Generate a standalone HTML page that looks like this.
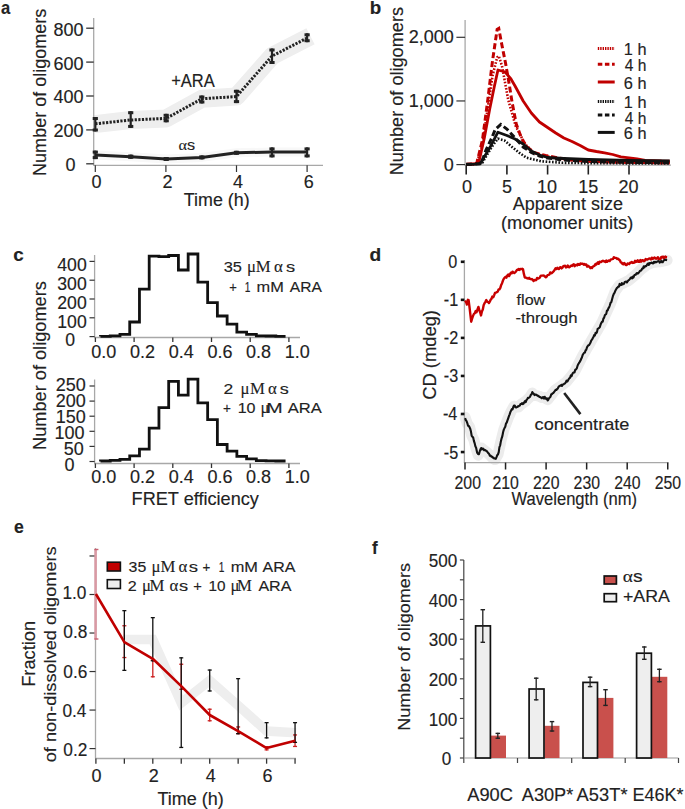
<!DOCTYPE html>
<html><head><meta charset="utf-8"><title>Figure</title>
<style>html,body{margin:0;padding:0;background:#fff;}svg{display:block;}</style></head>
<body><svg width="685" height="809" viewBox="0 0 685 809" font-family="&quot;Liberation Sans&quot;, sans-serif">
<rect width="685" height="809" fill="#fff"/>
<text transform="translate(1.10,13.60) scale(0.9200,1)" font-size="18" font-weight="bold" fill="#222" stroke="#222" stroke-width="0.15">a</text>
<text transform="translate(369.76,14.20) scale(1.0444,1)" font-size="18" font-weight="bold" fill="#222" stroke="#222" stroke-width="0.15">b</text>
<text transform="translate(13.35,260.60) scale(1.0500,1)" font-size="18" font-weight="bold" fill="#222" stroke="#222" stroke-width="0.15">c</text>
<text transform="translate(369.43,260.80) scale(1.0667,1)" font-size="18" font-weight="bold" fill="#222" stroke="#222" stroke-width="0.15">d</text>
<text transform="translate(13.92,532.70) scale(0.9778,1)" font-size="18" font-weight="bold" fill="#222" stroke="#222" stroke-width="0.15">e</text>
<text transform="translate(371.90,554.30) scale(0.9500,1)" font-size="18" font-weight="bold" fill="#222" stroke="#222" stroke-width="0.15">f</text>
<polyline points="94.50,124.10 130.70,120.00 166.20,118.40 201.80,98.80 236.50,96.50 272.00,56.10 310.50,36.30" fill="none" stroke="#eeeeee" stroke-width="18" stroke-linejoin="round"/>
<polyline points="94.50,155.00 130.70,156.80 166.20,159.00 201.80,157.40 236.50,152.80 272.00,152.00 310.00,152.00" fill="none" stroke="#f8f8f8" stroke-width="9" stroke-linejoin="round"/>
<line x1="93.70" y1="18.00" x2="93.70" y2="165.30" stroke="#a8a8a8" stroke-width="1.3" />
<line x1="93.20" y1="165.30" x2="323.00" y2="165.30" stroke="#a8a8a8" stroke-width="1.3" />
<line x1="86.20" y1="163.80" x2="93.70" y2="163.80" stroke="#333" stroke-width="1.3" />
<text transform="translate(65.40,171.25) scale(1.0000,1)" font-size="18" fill="#222" stroke="#222" stroke-width="0.15">0</text>
<line x1="86.20" y1="129.90" x2="93.70" y2="129.90" stroke="#333" stroke-width="1.3" />
<text transform="translate(53.50,137.35) scale(1.0000,1)" font-size="18" fill="#222" stroke="#222" stroke-width="0.15">200</text>
<line x1="86.20" y1="96.00" x2="93.70" y2="96.00" stroke="#333" stroke-width="1.3" />
<text transform="translate(53.50,103.45) scale(1.0000,1)" font-size="18" fill="#222" stroke="#222" stroke-width="0.15">400</text>
<line x1="86.20" y1="62.10" x2="93.70" y2="62.10" stroke="#333" stroke-width="1.3" />
<text transform="translate(53.50,69.55) scale(1.0000,1)" font-size="18" fill="#222" stroke="#222" stroke-width="0.15">600</text>
<line x1="86.20" y1="28.20" x2="93.70" y2="28.20" stroke="#333" stroke-width="1.3" />
<text transform="translate(53.50,35.65) scale(1.0000,1)" font-size="18" fill="#222" stroke="#222" stroke-width="0.15">800</text>
<line x1="95.30" y1="165.30" x2="95.30" y2="172.00" stroke="#333" stroke-width="1.2" />
<text transform="translate(91.40,188.40) scale(1.0000,1)" font-size="18" fill="#222" stroke="#222" stroke-width="0.15">0</text>
<line x1="165.90" y1="165.30" x2="165.90" y2="172.00" stroke="#333" stroke-width="1.2" />
<text transform="translate(162.50,188.40) scale(1.0000,1)" font-size="18" fill="#222" stroke="#222" stroke-width="0.15">2</text>
<line x1="236.50" y1="165.30" x2="236.50" y2="172.00" stroke="#333" stroke-width="1.2" />
<text transform="translate(233.10,188.40) scale(1.0000,1)" font-size="18" fill="#222" stroke="#222" stroke-width="0.15">4</text>
<line x1="307.10" y1="165.30" x2="307.10" y2="172.00" stroke="#333" stroke-width="1.2" />
<text transform="translate(303.70,188.40) scale(1.0000,1)" font-size="18" fill="#222" stroke="#222" stroke-width="0.15">6</text>
<polyline points="95.30,123.80 130.70,120.00 166.20,118.40 201.80,98.80 236.50,96.50 272.00,56.10 307.10,38.00" fill="none" stroke="#222" stroke-width="3" stroke-dasharray="2.2,1.4"/>
<line x1="95.30" y1="117.00" x2="95.30" y2="131.50" stroke="#222" stroke-width="2.2" />
<line x1="92.70" y1="118.50" x2="97.90" y2="118.50" stroke="#222" stroke-width="3" />
<line x1="92.70" y1="130.00" x2="97.90" y2="130.00" stroke="#222" stroke-width="3" />
<line x1="130.70" y1="111.20" x2="130.70" y2="127.90" stroke="#222" stroke-width="2.2" />
<line x1="128.10" y1="112.70" x2="133.30" y2="112.70" stroke="#222" stroke-width="3" />
<line x1="128.10" y1="126.40" x2="133.30" y2="126.40" stroke="#222" stroke-width="3" />
<line x1="166.20" y1="113.80" x2="166.20" y2="122.30" stroke="#222" stroke-width="2.2" />
<line x1="163.60" y1="115.30" x2="168.80" y2="115.30" stroke="#222" stroke-width="3" />
<line x1="163.60" y1="120.80" x2="168.80" y2="120.80" stroke="#222" stroke-width="3" />
<line x1="201.80" y1="95.50" x2="201.80" y2="103.50" stroke="#222" stroke-width="2.2" />
<line x1="199.20" y1="97.00" x2="204.40" y2="97.00" stroke="#222" stroke-width="3" />
<line x1="199.20" y1="102.00" x2="204.40" y2="102.00" stroke="#222" stroke-width="3" />
<line x1="236.50" y1="89.80" x2="236.50" y2="103.10" stroke="#222" stroke-width="2.2" />
<line x1="233.90" y1="91.30" x2="239.10" y2="91.30" stroke="#222" stroke-width="3" />
<line x1="233.90" y1="101.60" x2="239.10" y2="101.60" stroke="#222" stroke-width="3" />
<line x1="272.00" y1="48.50" x2="272.00" y2="64.00" stroke="#222" stroke-width="2.2" />
<line x1="269.40" y1="50.00" x2="274.60" y2="50.00" stroke="#222" stroke-width="3" />
<line x1="269.40" y1="62.50" x2="274.60" y2="62.50" stroke="#222" stroke-width="3" />
<line x1="307.10" y1="33.30" x2="307.10" y2="42.20" stroke="#222" stroke-width="2.2" />
<line x1="304.50" y1="34.80" x2="309.70" y2="34.80" stroke="#222" stroke-width="3" />
<line x1="304.50" y1="40.70" x2="309.70" y2="40.70" stroke="#222" stroke-width="3" />
<polyline points="95.30,155.00 130.70,156.80 166.20,159.00 201.80,157.40 236.50,152.80 272.00,152.00 307.10,152.00" fill="none" stroke="#222" stroke-width="3" stroke-linejoin="round"/>
<line x1="95.30" y1="150.60" x2="95.30" y2="159.10" stroke="#222" stroke-width="2.2" />
<line x1="92.70" y1="152.10" x2="97.90" y2="152.10" stroke="#222" stroke-width="3" />
<line x1="92.70" y1="157.60" x2="97.90" y2="157.60" stroke="#222" stroke-width="3" />
<line x1="130.70" y1="154.60" x2="130.70" y2="158.80" stroke="#222" stroke-width="2.2" />
<line x1="128.10" y1="156.10" x2="133.30" y2="156.10" stroke="#222" stroke-width="3" />
<line x1="128.10" y1="157.30" x2="133.30" y2="157.30" stroke="#222" stroke-width="3" />
<line x1="166.20" y1="157.00" x2="166.20" y2="161.00" stroke="#222" stroke-width="2.2" />
<line x1="163.60" y1="158.50" x2="168.80" y2="158.50" stroke="#222" stroke-width="3" />
<line x1="163.60" y1="159.50" x2="168.80" y2="159.50" stroke="#222" stroke-width="3" />
<line x1="201.80" y1="155.40" x2="201.80" y2="159.40" stroke="#222" stroke-width="2.2" />
<line x1="199.20" y1="156.90" x2="204.40" y2="156.90" stroke="#222" stroke-width="3" />
<line x1="199.20" y1="157.90" x2="204.40" y2="157.90" stroke="#222" stroke-width="3" />
<line x1="236.50" y1="150.80" x2="236.50" y2="154.80" stroke="#222" stroke-width="2.2" />
<line x1="233.90" y1="152.30" x2="239.10" y2="152.30" stroke="#222" stroke-width="3" />
<line x1="233.90" y1="153.30" x2="239.10" y2="153.30" stroke="#222" stroke-width="3" />
<line x1="272.00" y1="147.40" x2="272.00" y2="157.40" stroke="#222" stroke-width="2.2" />
<line x1="269.40" y1="148.90" x2="274.60" y2="148.90" stroke="#222" stroke-width="3" />
<line x1="269.40" y1="155.90" x2="274.60" y2="155.90" stroke="#222" stroke-width="3" />
<line x1="307.10" y1="147.40" x2="307.10" y2="157.40" stroke="#222" stroke-width="2.2" />
<line x1="304.50" y1="148.90" x2="309.70" y2="148.90" stroke="#222" stroke-width="3" />
<line x1="304.50" y1="155.90" x2="309.70" y2="155.90" stroke="#222" stroke-width="3" />
<text transform="translate(171.16,87.30) scale(0.9444,1)" font-size="17.5" fill="#222" stroke="#222" stroke-width="0.15">+ARA</text>
<text transform="translate(178.40,150.40) scale(1.0800,1)" font-size="15" fill="#222" stroke="#222" stroke-width="0.15"><tspan font-family="Liberation Serif" stroke-width="0.1">α</tspan>s</text>
<text transform="translate(183.80,206.30) scale(0.9923,1)" font-size="18" fill="#222" stroke="#222" stroke-width="0.15">Time (h)</text>
<text transform="translate(45.60,175.90) rotate(-90) scale(1.0018,1.0300)" font-size="18" fill="#222" stroke="#222" stroke-width="0.15">Number of oligomers</text>
<line x1="465.10" y1="20.00" x2="465.10" y2="165.20" stroke="#a8a8a8" stroke-width="1.3" />
<line x1="464.60" y1="165.20" x2="671.00" y2="165.20" stroke="#a8a8a8" stroke-width="1.3" />
<line x1="456.40" y1="164.60" x2="465.10" y2="164.60" stroke="#333" stroke-width="1.2" />
<text transform="translate(443.70,170.55) scale(1.0000,1)" font-size="18" fill="#222" stroke="#222" stroke-width="0.15">0</text>
<line x1="456.40" y1="100.95" x2="465.10" y2="100.95" stroke="#333" stroke-width="1.2" />
<text transform="translate(408.70,106.90) scale(1.0000,1)" font-size="18" fill="#222" stroke="#222" stroke-width="0.15">1,000</text>
<line x1="456.40" y1="37.30" x2="465.10" y2="37.30" stroke="#333" stroke-width="1.2" />
<text transform="translate(408.70,43.25) scale(1.0000,1)" font-size="18" fill="#222" stroke="#222" stroke-width="0.15">2,000</text>
<line x1="466.20" y1="165.20" x2="466.20" y2="174.50" stroke="#222" stroke-width="1.6" />
<text transform="translate(462.10,193.30) scale(1.0000,1)" font-size="18" fill="#222" stroke="#222" stroke-width="0.15">0</text>
<line x1="506.90" y1="165.20" x2="506.90" y2="174.50" stroke="#222" stroke-width="1.6" />
<text transform="translate(501.90,193.30) scale(1.0000,1)" font-size="18" fill="#222" stroke="#222" stroke-width="0.15">5</text>
<line x1="547.60" y1="165.20" x2="547.60" y2="174.50" stroke="#222" stroke-width="1.6" />
<text transform="translate(537.10,193.30) scale(1.0000,1)" font-size="18" fill="#222" stroke="#222" stroke-width="0.15">10</text>
<line x1="588.30" y1="165.20" x2="588.30" y2="174.50" stroke="#222" stroke-width="1.6" />
<text transform="translate(578.30,193.30) scale(1.0000,1)" font-size="18" fill="#222" stroke="#222" stroke-width="0.15">15</text>
<line x1="629.00" y1="165.20" x2="629.00" y2="174.50" stroke="#222" stroke-width="1.6" />
<text transform="translate(618.50,193.30) scale(1.0000,1)" font-size="18" fill="#222" stroke="#222" stroke-width="0.15">20</text>
<polyline points="466.20,164.30 474.34,164.00 478.65,163.00 484.19,138.70 489.72,109.00 494.28,86.80 497.95,70.00 505.27,72.00 510.97,79.00 515.04,86.00 523.18,101.00 531.32,113.00 539.46,122.00 547.60,127.50 555.74,133.00 563.88,138.00 572.02,141.50 580.16,145.50 588.30,150.00 596.44,151.50 604.58,152.80 612.72,154.50 620.86,156.90 629.00,157.80 637.14,159.00 645.28,160.30 653.42,160.70 661.56,161.00 669.70,161.10" fill="none" stroke="#c00000" stroke-width="2.8" stroke-linejoin="round"/>
<polyline points="466.20,164.30 474.34,164.00 476.78,163.00 482.48,145.00 487.77,108.00 492.49,76.00 497.13,57.50 498.76,56.00 502.02,66.00 508.20,99.80 515.69,126.00 524.97,144.00 534.17,153.00 545.48,156.00 557.21,158.20 572.02,160.30 589.93,161.60 629.00,162.50 669.70,163.00" fill="none" stroke="#c00000" stroke-width="2.6" stroke-dasharray="1.6,1.6"/>
<polyline points="466.20,164.30 474.34,164.00 476.78,163.00 482.48,140.00 487.77,100.00 492.49,61.00 497.13,29.50 498.76,28.50 501.69,44.00 505.52,63.00 509.18,84.00 512.03,102.00 516.26,124.00 521.39,138.00 526.52,146.50 533.76,152.50 545.48,155.50 557.21,157.70 571.78,159.90 589.93,161.30 629.00,162.30 669.70,162.80" fill="none" stroke="#c00000" stroke-width="3" stroke-dasharray="6,3"/>
<polyline points="466.20,164.30 474.34,164.20 482.48,162.50 487.77,153.60 493.06,145.00 497.95,138.70 504.46,140.50 511.78,146.70 519.11,152.60 526.44,157.70 541.09,161.30 563.07,162.80 588.30,163.20 669.70,163.50" fill="none" stroke="#111" stroke-width="2.6" stroke-dasharray="1.6,1.6"/>
<polyline points="466.20,164.30 474.34,164.20 481.26,163.60 485.98,150.00 491.43,138.70 495.26,129.50 500.79,124.50 506.90,129.00 515.04,138.00 523.18,147.00 531.32,152.50 539.46,156.00 547.60,158.00 563.88,160.00 588.30,161.50 629.00,162.30 669.70,162.80" fill="none" stroke="#111" stroke-width="3" stroke-dasharray="6,3"/>
<polyline points="466.20,164.30 474.34,164.20 480.04,163.80 484.11,157.30 490.62,146.20 497.95,132.20 506.90,135.50 515.04,139.00 523.18,144.00 531.32,151.00 539.46,155.00 547.60,157.50 563.88,158.50 588.30,159.50 629.00,160.50 669.70,161.00" fill="none" stroke="#111" stroke-width="2.8" stroke-linejoin="round"/>
<line x1="597.80" y1="48.60" x2="614.70" y2="48.60" stroke="#c00000" stroke-width="3" stroke-dasharray="1.4,1.0"/>
<text transform="translate(623.78,54.50) scale(1.0200,1)" font-size="16" fill="#222" stroke="#222" stroke-width="0.15">1 h</text>
<line x1="597.80" y1="64.20" x2="614.70" y2="64.20" stroke="#c00000" stroke-width="3" stroke-dasharray="4.5,2.6"/>
<text transform="translate(624.80,71.40) scale(0.9714,1)" font-size="16" fill="#222" stroke="#222" stroke-width="0.15">4 h</text>
<line x1="597.80" y1="82.00" x2="614.70" y2="82.00" stroke="#c00000" stroke-width="3" />
<text transform="translate(623.78,88.90) scale(1.0200,1)" font-size="16" fill="#222" stroke="#222" stroke-width="0.15">6 h</text>
<line x1="597.80" y1="101.50" x2="614.70" y2="101.50" stroke="#111" stroke-width="3" stroke-dasharray="1.4,1.0"/>
<text transform="translate(623.78,108.40) scale(1.0200,1)" font-size="16" fill="#222" stroke="#222" stroke-width="0.15">1 h</text>
<line x1="597.80" y1="114.90" x2="614.70" y2="114.90" stroke="#111" stroke-width="3" stroke-dasharray="4.5,2.6"/>
<text transform="translate(624.80,124.00) scale(0.9714,1)" font-size="16" fill="#222" stroke="#222" stroke-width="0.15">4 h</text>
<line x1="597.80" y1="132.40" x2="614.70" y2="132.40" stroke="#111" stroke-width="3" />
<text transform="translate(623.78,138.90) scale(1.0200,1)" font-size="16" fill="#222" stroke="#222" stroke-width="0.15">6 h</text>
<text transform="translate(512.80,209.50) scale(1.0009,1)" font-size="18" fill="#222" stroke="#222" stroke-width="0.15">Apparent size</text>
<text transform="translate(500.99,228.80) scale(1.0101,1)" font-size="18" fill="#222" stroke="#222" stroke-width="0.15">(monomer units)</text>
<text transform="translate(402.90,175.31) rotate(-90) scale(1.0078,1.0000)" font-size="18" fill="#222" stroke="#222" stroke-width="0.15">Number of oligomers</text>
<line x1="94.60" y1="255.00" x2="94.60" y2="337.50" stroke="#a8a8a8" stroke-width="1.3" />
<line x1="94.10" y1="337.50" x2="300.00" y2="337.50" stroke="#a8a8a8" stroke-width="1.3" />
<line x1="89.50" y1="336.60" x2="94.60" y2="336.60" stroke="#333" stroke-width="1.2" />
<text transform="translate(65.20,346.45) scale(0.9800,1)" font-size="18" fill="#222" stroke="#222" stroke-width="0.15">0</text>
<line x1="89.50" y1="317.80" x2="94.60" y2="317.80" stroke="#333" stroke-width="1.2" />
<text transform="translate(57.30,327.65) scale(0.9800,1)" font-size="18" fill="#222" stroke="#222" stroke-width="0.15">100</text>
<line x1="89.50" y1="299.00" x2="94.60" y2="299.00" stroke="#333" stroke-width="1.2" />
<text transform="translate(57.30,308.85) scale(0.9800,1)" font-size="18" fill="#222" stroke="#222" stroke-width="0.15">200</text>
<line x1="89.50" y1="280.20" x2="94.60" y2="280.20" stroke="#333" stroke-width="1.2" />
<text transform="translate(57.30,290.05) scale(0.9800,1)" font-size="18" fill="#222" stroke="#222" stroke-width="0.15">300</text>
<line x1="89.50" y1="261.40" x2="94.60" y2="261.40" stroke="#333" stroke-width="1.2" />
<text transform="translate(57.30,271.25) scale(0.9800,1)" font-size="18" fill="#222" stroke="#222" stroke-width="0.15">400</text>
<line x1="95.40" y1="337.50" x2="95.40" y2="342.00" stroke="#333" stroke-width="1.3" />
<text transform="translate(91.30,358.00) scale(1.0000,1)" font-size="18" fill="#222" stroke="#222" stroke-width="0.15">0.0</text>
<line x1="134.10" y1="337.50" x2="134.10" y2="342.00" stroke="#333" stroke-width="1.3" />
<text transform="translate(130.00,358.00) scale(1.0000,1)" font-size="18" fill="#222" stroke="#222" stroke-width="0.15">0.2</text>
<line x1="172.80" y1="337.50" x2="172.80" y2="342.00" stroke="#333" stroke-width="1.3" />
<text transform="translate(168.70,358.00) scale(1.0000,1)" font-size="18" fill="#222" stroke="#222" stroke-width="0.15">0.4</text>
<line x1="211.50" y1="337.50" x2="211.50" y2="342.00" stroke="#333" stroke-width="1.3" />
<text transform="translate(207.40,358.00) scale(1.0000,1)" font-size="18" fill="#222" stroke="#222" stroke-width="0.15">0.6</text>
<line x1="250.20" y1="337.50" x2="250.20" y2="342.00" stroke="#333" stroke-width="1.3" />
<text transform="translate(246.10,358.00) scale(1.0000,1)" font-size="18" fill="#222" stroke="#222" stroke-width="0.15">0.8</text>
<line x1="288.90" y1="337.50" x2="288.90" y2="342.00" stroke="#333" stroke-width="1.3" />
<text transform="translate(284.80,358.00) scale(1.0000,1)" font-size="18" fill="#222" stroke="#222" stroke-width="0.15">1.0</text>
<line x1="94.60" y1="379.50" x2="94.60" y2="463.50" stroke="#a8a8a8" stroke-width="1.3" />
<line x1="94.10" y1="463.50" x2="300.00" y2="463.50" stroke="#a8a8a8" stroke-width="1.3" />
<line x1="89.50" y1="461.50" x2="94.60" y2="461.50" stroke="#333" stroke-width="1.2" />
<text transform="translate(64.40,470.75) scale(1.0000,1)" font-size="18" fill="#222" stroke="#222" stroke-width="0.15">0</text>
<line x1="89.50" y1="446.40" x2="94.60" y2="446.40" stroke="#333" stroke-width="1.2" />
<text transform="translate(63.80,455.45) scale(1.0000,1)" font-size="18" fill="#222" stroke="#222" stroke-width="0.15">50</text>
<line x1="89.50" y1="431.30" x2="94.60" y2="431.30" stroke="#333" stroke-width="1.2" />
<text transform="translate(54.40,439.05) scale(1.0000,1)" font-size="18" fill="#222" stroke="#222" stroke-width="0.15">100</text>
<line x1="89.50" y1="416.20" x2="94.60" y2="416.20" stroke="#333" stroke-width="1.2" />
<text transform="translate(55.80,423.45) scale(1.0000,1)" font-size="18" fill="#222" stroke="#222" stroke-width="0.15">150</text>
<line x1="89.50" y1="401.10" x2="94.60" y2="401.10" stroke="#333" stroke-width="1.2" />
<text transform="translate(55.80,407.35) scale(1.0000,1)" font-size="18" fill="#222" stroke="#222" stroke-width="0.15">200</text>
<line x1="89.50" y1="386.00" x2="94.60" y2="386.00" stroke="#333" stroke-width="1.2" />
<text transform="translate(55.80,391.45) scale(1.0000,1)" font-size="18" fill="#222" stroke="#222" stroke-width="0.15">250</text>
<line x1="95.40" y1="463.50" x2="95.40" y2="468.00" stroke="#333" stroke-width="1.3" />
<text transform="translate(91.30,483.40) scale(1.0000,1)" font-size="18" fill="#222" stroke="#222" stroke-width="0.15">0.0</text>
<line x1="134.10" y1="463.50" x2="134.10" y2="468.00" stroke="#333" stroke-width="1.3" />
<text transform="translate(130.00,483.40) scale(1.0000,1)" font-size="18" fill="#222" stroke="#222" stroke-width="0.15">0.2</text>
<line x1="172.80" y1="463.50" x2="172.80" y2="468.00" stroke="#333" stroke-width="1.3" />
<text transform="translate(168.70,483.40) scale(1.0000,1)" font-size="18" fill="#222" stroke="#222" stroke-width="0.15">0.4</text>
<line x1="211.50" y1="463.50" x2="211.50" y2="468.00" stroke="#333" stroke-width="1.3" />
<text transform="translate(207.40,483.40) scale(1.0000,1)" font-size="18" fill="#222" stroke="#222" stroke-width="0.15">0.6</text>
<line x1="250.20" y1="463.50" x2="250.20" y2="468.00" stroke="#333" stroke-width="1.3" />
<text transform="translate(246.10,483.40) scale(1.0000,1)" font-size="18" fill="#222" stroke="#222" stroke-width="0.15">0.8</text>
<line x1="288.90" y1="463.50" x2="288.90" y2="468.00" stroke="#333" stroke-width="1.3" />
<text transform="translate(284.80,483.40) scale(1.0000,1)" font-size="18" fill="#222" stroke="#222" stroke-width="0.15">1.0</text>
<polyline points="100.50,336.60 100.50,336.30 110.24,336.30 110.24,335.80 119.98,335.80 119.98,334.40 129.72,334.40 129.72,322.00 139.46,322.00 139.46,289.20 149.20,289.20 149.20,256.10 158.94,256.10 158.94,256.70 168.68,256.70 168.68,255.50 178.42,255.50 178.42,270.00 188.16,270.00 188.16,254.00 197.90,254.00 197.90,282.20 207.64,282.20 207.64,302.70 217.38,302.70 217.38,316.00 227.12,316.00 227.12,324.20 236.86,324.20 236.86,332.20 246.60,332.20 246.60,334.30 256.34,334.30 256.34,335.80 266.08,335.80 266.08,336.00 275.82,336.00 275.82,336.30 285.56,336.30" fill="none" stroke="#111" stroke-width="2.8" stroke-linejoin="miter"/>
<polyline points="100.50,461.50 100.50,461.00 110.24,461.00 110.24,460.30 119.98,460.30 119.98,459.30 129.72,459.30 129.72,455.80 139.46,455.80 139.46,449.10 149.20,449.10 149.20,428.20 158.94,428.20 158.94,407.70 168.68,407.70 168.68,381.30 178.42,381.30 178.42,395.10 188.16,395.10 188.16,379.20 197.90,379.20 197.90,402.80 207.64,402.80 207.64,419.70 217.38,419.70 217.38,444.50 227.12,444.50 227.12,451.20 236.86,451.20 236.86,456.40 246.60,456.40 246.60,458.90 256.34,458.90 256.34,460.60 266.08,460.60 266.08,460.90 275.82,460.90 275.82,461.00 285.56,461.00" fill="none" stroke="#111" stroke-width="2.8" stroke-linejoin="miter"/>
<text transform="translate(223.64,271.60) scale(1.0563,1)" font-size="15.5" fill="#222" stroke="#222" stroke-width="0.15">35</text>
<text transform="translate(246.90,271.60) scale(1.0000,1)" font-size="16.8" fill="#222" stroke="#222" stroke-width="0.15"><tspan font-family="Liberation Serif" stroke-width="0.1">μ</tspan></text>
<text transform="translate(255.80,271.60) scale(1.0000,1)" font-size="16.8" fill="#222" stroke="#222" stroke-width="0.15"><tspan font-family="Liberation Serif" stroke-width="0.1">M</tspan></text>
<text transform="translate(273.90,271.60) scale(1.0000,1)" font-size="16.8" fill="#222" stroke="#222" stroke-width="0.15"><tspan font-family="Liberation Serif" stroke-width="0.1">α</tspan></text>
<text transform="translate(285.92,271.60) scale(1.1833,1)" font-size="15.5" fill="#222" stroke="#222" stroke-width="0.15">s</text>
<text transform="translate(229.36,291.50) scale(0.8375,1)" font-size="15.5" fill="#222" stroke="#222" stroke-width="0.15">+</text>
<text transform="translate(244.64,291.50) scale(0.6571,1)" font-size="15.5" fill="#222" stroke="#222" stroke-width="0.15">1</text>
<text transform="translate(256.55,291.50) scale(1.0542,1)" font-size="15.5" fill="#222" stroke="#222" stroke-width="0.15">mM</text>
<text transform="translate(289.80,291.50) scale(1.0062,1)" font-size="15.5" fill="#222" stroke="#222" stroke-width="0.15">ARA</text>
<text transform="translate(223.47,394.00) scale(1.1286,1)" font-size="15.5" fill="#222" stroke="#222" stroke-width="0.15">2</text>
<text transform="translate(240.50,394.00) scale(1.0000,1)" font-size="16.8" fill="#222" stroke="#222" stroke-width="0.15"><tspan font-family="Liberation Serif" stroke-width="0.1">μ</tspan></text>
<text transform="translate(250.00,394.00) scale(1.0000,1)" font-size="16.8" fill="#222" stroke="#222" stroke-width="0.15"><tspan font-family="Liberation Serif" stroke-width="0.1">M</tspan></text>
<text transform="translate(268.10,394.00) scale(1.0000,1)" font-size="16.8" fill="#222" stroke="#222" stroke-width="0.15"><tspan font-family="Liberation Serif" stroke-width="0.1">α</tspan></text>
<text transform="translate(279.83,394.00) scale(1.1667,1)" font-size="15.5" fill="#222" stroke="#222" stroke-width="0.15">s</text>
<text transform="translate(222.93,412.90) scale(0.8750,1)" font-size="15.5" fill="#222" stroke="#222" stroke-width="0.15">+</text>
<text transform="translate(237.66,412.90) scale(1.0375,1)" font-size="15.5" fill="#222" stroke="#222" stroke-width="0.15">10</text>
<text transform="translate(260.40,412.90) scale(1.0000,1)" font-size="16.8" fill="#222" stroke="#222" stroke-width="0.15"><tspan font-family="Liberation Serif" stroke-width="0.1">μ</tspan></text>
<text transform="translate(266.33,412.90) scale(1.2727,1)" font-size="15.5" fill="#222" stroke="#222" stroke-width="0.15">M</text>
<text transform="translate(287.70,412.90) scale(1.0687,1)" font-size="15.5" fill="#222" stroke="#222" stroke-width="0.15">ARA</text>
<text transform="translate(131.59,505.20) scale(1.0079,1)" font-size="18" fill="#222" stroke="#222" stroke-width="0.15">FRET efficiency</text>
<text transform="translate(45.60,449.91) rotate(-90) scale(1.0102,0.9800)" font-size="18" fill="#222" stroke="#222" stroke-width="0.15">Number of oligomers</text>
<polyline points="465.10,417.20 467.30,423.80 469.50,426.70 471.70,435.50 473.90,439.90 476.10,448.60 478.20,455.20 479.70,451.55 481.20,447.90 484.10,450.10 487.00,452.30 489.90,455.20 492.80,458.10 495.00,459.60 496.50,457.05 498.00,454.50 500.90,441.30 503.80,429.60 506.00,423.80 508.20,418.00 511.10,411.40 514.00,406.30 516.20,406.65 518.40,407.00 521.30,404.10 523.50,402.65 525.70,401.20 527.85,399.00 530.00,396.80 532.30,393.10 534.50,395.30 536.65,395.70 538.80,396.10 540.30,396.80 541.80,397.50 544.70,397.50 547.60,399.70 550.50,396.10 552.70,393.15 554.90,390.20 556.67,388.93 558.45,387.65 560.23,386.38 562.00,385.10 563.50,384.00 565.00,382.90 566.50,381.80 568.10,379.82 569.70,377.84 571.30,375.86 572.90,373.88 574.50,371.90 576.00,368.92 577.50,365.94 579.00,362.96 580.50,359.98 582.00,357.00 583.67,354.10 585.33,351.20 587.00,348.30 588.67,345.40 590.33,342.50 592.00,339.60 593.67,336.72 595.33,333.83 597.00,330.95 598.67,328.07 600.33,325.18 602.00,322.30 603.70,318.54 605.40,314.78 607.10,311.02 608.80,307.26 610.50,303.50 612.10,299.30 613.70,295.10 615.30,290.90 617.45,287.95 619.60,285.00 621.36,284.14 623.12,283.28 624.88,282.42 626.64,281.56 628.40,280.70 630.23,279.23 632.05,277.75 633.88,276.27 635.70,274.80 637.63,272.87 639.57,270.93 641.50,269.00 643.47,267.53 645.43,266.07 647.40,264.60 649.33,263.87 651.27,263.13 653.20,262.40 655.03,262.22 656.85,262.05 658.67,261.88 660.50,261.70 662.15,261.32 663.80,260.95 665.45,260.57 667.10,260.20" fill="none" stroke="#ececec" stroke-width="11" stroke-linejoin="round" stroke-linecap="round"/>
<line x1="464.40" y1="260.00" x2="464.40" y2="462.80" stroke="#a8a8a8" stroke-width="1.3" />
<line x1="463.90" y1="462.60" x2="668.50" y2="462.60" stroke="#a8a8a8" stroke-width="1.3" />
<line x1="460.80" y1="261.80" x2="464.40" y2="261.80" stroke="#111" stroke-width="2.6" />
<text transform="translate(448.30,268.25) scale(0.9000,1)" font-size="18" fill="#222" stroke="#222" stroke-width="0.15">0</text>
<line x1="460.80" y1="299.85" x2="464.40" y2="299.85" stroke="#111" stroke-width="2.6" />
<text transform="translate(443.80,306.30) scale(0.9000,1)" font-size="18" fill="#222" stroke="#222" stroke-width="0.15">-1</text>
<line x1="460.80" y1="337.90" x2="464.40" y2="337.90" stroke="#111" stroke-width="2.6" />
<text transform="translate(443.80,344.35) scale(0.9000,1)" font-size="18" fill="#222" stroke="#222" stroke-width="0.15">-2</text>
<line x1="460.80" y1="375.95" x2="464.40" y2="375.95" stroke="#111" stroke-width="2.6" />
<text transform="translate(443.80,382.40) scale(0.9000,1)" font-size="18" fill="#222" stroke="#222" stroke-width="0.15">-3</text>
<line x1="460.80" y1="414.00" x2="464.40" y2="414.00" stroke="#111" stroke-width="2.6" />
<text transform="translate(442.90,420.45) scale(0.9000,1)" font-size="18" fill="#222" stroke="#222" stroke-width="0.15">-4</text>
<line x1="460.80" y1="452.05" x2="464.40" y2="452.05" stroke="#111" stroke-width="2.6" />
<text transform="translate(443.80,458.50) scale(0.9000,1)" font-size="18" fill="#222" stroke="#222" stroke-width="0.15">-5</text>
<line x1="465.00" y1="462.60" x2="465.00" y2="469.50" stroke="#222" stroke-width="1.5" />
<text transform="translate(454.56,488.60) scale(0.8800,1)" font-size="18" fill="#222" stroke="#222" stroke-width="0.15">200</text>
<line x1="505.55" y1="462.60" x2="505.55" y2="469.50" stroke="#222" stroke-width="1.5" />
<text transform="translate(492.51,488.60) scale(0.8800,1)" font-size="18" fill="#222" stroke="#222" stroke-width="0.15">210</text>
<line x1="546.10" y1="462.60" x2="546.10" y2="469.50" stroke="#222" stroke-width="1.5" />
<text transform="translate(533.06,488.60) scale(0.8800,1)" font-size="18" fill="#222" stroke="#222" stroke-width="0.15">220</text>
<line x1="586.65" y1="462.60" x2="586.65" y2="469.50" stroke="#222" stroke-width="1.5" />
<text transform="translate(573.61,488.60) scale(0.8800,1)" font-size="18" fill="#222" stroke="#222" stroke-width="0.15">230</text>
<line x1="627.20" y1="462.60" x2="627.20" y2="469.50" stroke="#222" stroke-width="1.5" />
<text transform="translate(614.16,488.60) scale(0.8800,1)" font-size="18" fill="#222" stroke="#222" stroke-width="0.15">240</text>
<line x1="667.75" y1="462.60" x2="667.75" y2="469.50" stroke="#222" stroke-width="1.5" />
<text transform="translate(654.71,488.60) scale(0.8800,1)" font-size="18" fill="#222" stroke="#222" stroke-width="0.15">250</text>
<polyline points="464.90,300.71 466.10,302.03 466.90,304.51 467.90,299.81 468.60,300.09 469.60,307.96 471.20,321.69 472.10,318.72 473.00,315.97 473.90,313.88 474.80,313.26 475.70,311.00 476.60,312.26 477.50,309.32 478.40,306.90 479.27,309.95 480.13,312.21 481.00,315.46 481.90,311.52 482.80,309.56 483.70,304.95 484.57,303.23 485.43,301.83 486.30,299.99 487.17,301.58 488.03,302.06 488.90,303.10 489.77,301.70 490.63,299.81 491.50,298.67 492.38,296.56 493.25,297.30 494.12,295.37 495.00,292.96 495.90,292.61 496.80,292.23 497.70,291.67 498.57,289.34 499.45,289.34 500.32,287.93 501.20,284.92 502.07,283.21 502.95,280.51 503.82,278.80 504.70,277.62 505.57,276.87 506.43,277.66 507.30,275.49 508.18,274.51 509.05,276.08 509.93,274.42 510.80,272.85 511.67,273.35 512.53,271.66 513.40,272.42 514.27,273.05 515.13,272.32 516.00,271.47 516.88,269.99 517.77,269.81 518.65,268.90 519.53,269.92 520.42,268.91 521.30,269.07 522.15,268.79 523.00,269.34 523.90,273.90 524.80,277.46 525.67,277.58 526.53,277.90 527.40,278.36 528.27,278.61 529.13,277.81 530.00,278.94 530.90,279.20 531.80,279.07 532.70,279.72 533.60,280.97 534.48,280.05 535.35,280.21 536.23,279.97 537.10,277.87 537.98,278.62 538.85,278.32 539.73,277.82 540.60,275.98 541.47,275.63 542.33,275.64 543.20,275.57 544.07,275.59 544.93,276.60 545.80,277.26 546.68,276.53 547.57,275.08 548.45,274.92 549.33,274.69 550.22,272.39 551.10,273.19 551.98,273.05 552.87,272.01 553.75,271.20 554.63,269.81 555.52,268.36 556.40,269.09 557.27,267.82 558.14,268.76 559.01,268.99 559.88,267.43 560.75,267.26 561.62,268.39 562.49,267.68 563.36,266.17 564.23,265.88 565.10,265.76 565.98,267.47 566.85,267.14 567.73,265.45 568.60,266.98 569.48,267.25 570.35,266.38 571.23,265.54 572.10,265.92 572.94,264.68 573.77,264.16 574.61,266.22 575.45,265.21 576.29,264.68 577.12,265.42 577.96,263.98 578.80,264.79 579.63,264.78 580.46,263.41 581.29,263.60 582.11,263.80 582.94,263.78 583.77,264.71 584.60,264.02 585.43,264.77 586.25,264.44 587.08,266.67 587.90,265.70 588.73,266.31 589.55,266.98 590.38,268.11 591.20,267.31 592.05,268.02 592.90,266.54 593.75,266.13 594.60,265.62 595.45,263.93 596.30,264.46 597.13,263.33 597.96,262.38 598.79,263.78 599.61,261.76 600.44,261.96 601.27,262.05 602.10,261.14 602.94,260.68 603.79,261.24 604.63,261.43 605.47,262.08 606.31,260.55 607.16,261.74 608.00,261.10 608.83,260.54 609.66,261.10 610.49,259.83 611.31,259.33 612.14,259.18 612.97,258.92 613.80,257.16 614.68,257.87 615.56,257.91 616.44,258.23 617.32,258.96 618.20,258.69 619.08,259.74 619.96,260.47 620.84,262.44 621.72,262.72 622.60,264.00 623.43,264.38 624.26,262.95 625.09,263.89 625.91,265.02 626.74,264.99 627.57,263.51 628.40,263.69 629.23,264.05 630.06,262.75 630.89,262.73 631.71,261.92 632.54,262.94 633.37,262.80 634.20,262.65 635.08,260.72 635.96,261.92 636.84,261.63 637.72,260.24 638.60,261.87 639.48,261.92 640.36,259.98 641.24,261.59 642.12,260.11 643.00,260.17 643.88,261.24 644.76,260.72 645.64,258.97 646.52,259.48 647.40,259.54 648.28,258.97 649.16,258.49 650.04,258.64 650.92,259.47 651.80,257.65 652.67,258.85 653.54,258.50 654.41,257.40 655.28,258.08 656.15,258.70 657.02,258.35 657.89,257.19 658.76,259.32 659.63,258.77 660.50,259.13 661.33,256.96 662.15,257.26 662.98,256.63 663.80,258.32 664.62,257.01 665.45,256.59 666.27,257.20 667.10,257.30" fill="none" stroke="#c80000" stroke-width="2.4" stroke-linejoin="round"/>
<polyline points="465.10,418.11 465.83,420.10 466.57,421.07 467.30,423.03 468.03,425.69 468.77,425.89 469.50,427.14 470.23,428.73 470.97,431.59 471.70,435.91 472.43,436.80 473.17,437.49 473.90,440.86 474.63,443.10 475.37,446.36 476.10,447.68 477.15,452.68 478.20,454.25 478.95,454.17 479.70,451.45 480.45,449.37 481.20,448.02 481.93,449.39 482.65,448.49 483.38,448.73 484.10,450.16 484.83,450.07 485.55,450.34 486.27,451.01 487.00,451.31 487.73,452.37 488.45,453.34 489.17,454.05 489.90,455.77 490.62,455.46 491.35,456.65 492.07,456.67 492.80,457.76 493.53,457.54 494.27,458.55 495.00,458.53 495.75,458.84 496.50,457.16 497.25,455.09 498.00,454.44 498.73,452.16 499.45,447.03 500.17,445.30 500.90,441.15 501.62,438.36 502.35,436.19 503.07,432.29 503.80,429.61 504.53,428.08 505.27,426.79 506.00,423.45 506.73,422.60 507.47,420.39 508.20,418.30 508.93,416.14 509.65,414.36 510.38,412.07 511.10,410.59 511.83,409.18 512.55,409.38 513.27,407.04 514.00,405.56 514.73,405.50 515.47,407.28 516.20,407.47 516.93,407.14 517.67,406.40 518.40,406.43 519.12,405.82 519.85,405.46 520.57,404.07 521.30,403.98 522.03,403.10 522.77,404.15 523.50,403.69 524.23,402.27 524.97,401.12 525.70,402.22 526.42,400.05 527.13,399.42 527.85,397.90 528.57,398.01 529.28,397.48 530.00,396.81 530.77,394.91 531.53,394.34 532.30,392.01 533.03,393.31 533.77,393.66 534.50,395.08 535.22,394.43 535.93,394.52 536.65,395.27 537.37,395.25 538.08,396.15 538.80,396.16 539.55,397.00 540.30,397.15 541.05,397.63 541.80,398.33 542.52,397.26 543.25,397.12 543.98,398.57 544.70,396.73 545.43,398.54 546.15,398.92 546.88,398.15 547.60,400.44 548.33,399.66 549.05,398.18 549.77,397.51 550.50,396.79 551.23,394.32 551.97,394.19 552.70,393.16 553.43,392.90 554.17,391.85 554.90,390.92 555.61,389.87 556.32,390.04 557.03,389.07 557.74,388.59 558.45,387.06 559.16,386.11 559.87,385.82 560.58,385.81 561.29,384.74 562.00,385.84 562.75,384.68 563.50,384.28 564.25,383.73 565.00,383.30 565.75,382.33 566.50,380.71 567.23,381.55 567.95,380.55 568.68,379.11 569.41,378.28 570.14,377.65 570.86,375.45 571.59,376.02 572.32,374.05 573.05,372.76 573.77,372.28 574.50,372.40 575.25,369.76 576.00,369.45 576.75,368.48 577.50,365.93 578.25,364.19 579.00,362.91 579.75,361.87 580.50,360.57 581.25,358.75 582.00,357.31 582.71,354.83 583.43,353.74 584.14,352.73 584.86,352.56 585.57,350.36 586.29,349.69 587.00,347.23 587.71,346.09 588.43,345.31 589.14,344.95 589.86,343.75 590.57,342.47 591.29,340.38 592.00,339.64 592.71,338.29 593.43,337.05 594.14,335.05 594.86,335.52 595.57,332.76 596.29,333.24 597.00,331.91 597.71,328.65 598.43,328.39 599.14,327.95 599.86,327.04 600.57,324.66 601.29,323.03 602.00,321.66 602.71,321.71 603.42,318.53 604.12,317.78 604.83,315.25 605.54,314.52 606.25,313.90 606.96,310.53 607.67,310.47 608.38,308.22 609.08,307.48 609.79,305.51 610.50,302.91 611.30,302.27 612.10,299.27 612.90,296.15 613.70,294.01 614.50,292.98 615.30,290.79 616.02,289.48 616.73,288.14 617.45,287.61 618.17,286.56 618.88,286.73 619.60,283.90 620.33,285.19 621.07,285.03 621.80,283.09 622.53,284.50 623.27,283.68 624.00,283.73 624.73,282.03 625.47,281.85 626.20,281.54 626.93,282.51 627.67,281.25 628.40,280.39 629.13,279.95 629.86,279.03 630.59,277.94 631.32,277.46 632.05,278.49 632.78,276.69 633.51,277.53 634.24,275.43 634.97,274.87 635.70,274.82 636.43,273.39 637.15,273.07 637.88,273.63 638.60,272.75 639.33,271.86 640.05,270.74 640.77,270.63 641.50,269.97 642.24,268.56 642.98,268.38 643.71,266.36 644.45,267.31 645.19,266.14 645.92,266.26 646.66,265.47 647.40,264.13 648.12,263.33 648.85,264.99 649.58,262.96 650.30,263.44 651.02,262.88 651.75,262.51 652.48,263.20 653.20,263.45 653.93,261.80 654.66,262.60 655.39,261.75 656.12,262.25 656.85,261.82 657.58,261.25 658.31,261.17 659.04,261.20 659.77,262.66 660.50,261.69 661.23,260.92 661.97,262.26 662.70,262.29 663.43,260.92 664.17,260.07 664.90,260.02 665.63,259.63 666.37,260.02 667.10,260.20" fill="none" stroke="#111" stroke-width="2.1" stroke-linejoin="round"/>
<line x1="564.20" y1="393.00" x2="580.40" y2="414.10" stroke="#222" stroke-width="2.6" />
<text transform="translate(516.60,304.60) scale(1.0741,1)" font-size="15" fill="#222" stroke="#222" stroke-width="0.15">flow</text>
<text transform="translate(515.49,322.60) scale(1.1130,1)" font-size="15" fill="#222" stroke="#222" stroke-width="0.15">-through</text>
<text transform="translate(534.56,429.50) scale(1.1354,1)" font-size="16" fill="#222" stroke="#222" stroke-width="0.15">concentrate</text>
<text transform="translate(511.50,505.00) scale(0.9206,1)" font-size="18" fill="#222" stroke="#222" stroke-width="0.15">Wavelength (nm)</text>
<text transform="translate(435.90,399.72) rotate(-90) scale(1.0198,1.0700)" font-size="18" fill="#222" stroke="#222" stroke-width="0.15">CD (mdeg)</text>
<line x1="95.50" y1="548.00" x2="95.50" y2="758.50" stroke="#a8a8a8" stroke-width="1.3" />
<line x1="95.00" y1="758.50" x2="296.00" y2="758.50" stroke="#a8a8a8" stroke-width="1.3" />
<line x1="89.50" y1="555.98" x2="95.50" y2="555.98" stroke="#333" stroke-width="1.2" />
<line x1="89.50" y1="594.50" x2="95.50" y2="594.50" stroke="#333" stroke-width="1.2" />
<text transform="translate(62.40,599.05) scale(0.9600,1)" font-size="18" fill="#222" stroke="#222" stroke-width="0.15">1.0</text>
<line x1="89.50" y1="633.02" x2="95.50" y2="633.02" stroke="#333" stroke-width="1.2" />
<text transform="translate(63.36,638.35) scale(0.9600,1)" font-size="18" fill="#222" stroke="#222" stroke-width="0.15">0.8</text>
<line x1="89.50" y1="671.54" x2="95.50" y2="671.54" stroke="#333" stroke-width="1.2" />
<text transform="translate(63.36,677.65) scale(0.9600,1)" font-size="18" fill="#222" stroke="#222" stroke-width="0.15">0.6</text>
<line x1="89.50" y1="710.06" x2="95.50" y2="710.06" stroke="#333" stroke-width="1.2" />
<text transform="translate(62.40,717.05) scale(0.9600,1)" font-size="18" fill="#222" stroke="#222" stroke-width="0.15">0.4</text>
<line x1="89.50" y1="748.58" x2="95.50" y2="748.58" stroke="#333" stroke-width="1.2" />
<text transform="translate(63.36,756.05) scale(0.9600,1)" font-size="18" fill="#222" stroke="#222" stroke-width="0.15">0.2</text>
<line x1="95.90" y1="758.50" x2="95.90" y2="763.70" stroke="#333" stroke-width="1.3" />
<text transform="translate(91.40,781.80) scale(1.0000,1)" font-size="18" fill="#222" stroke="#222" stroke-width="0.15">0</text>
<line x1="124.35" y1="758.50" x2="124.35" y2="763.70" stroke="#333" stroke-width="1.3" />
<line x1="152.80" y1="758.50" x2="152.80" y2="763.70" stroke="#333" stroke-width="1.3" />
<text transform="translate(148.80,781.80) scale(1.0000,1)" font-size="18" fill="#222" stroke="#222" stroke-width="0.15">2</text>
<line x1="181.25" y1="758.50" x2="181.25" y2="763.70" stroke="#333" stroke-width="1.3" />
<line x1="209.70" y1="758.50" x2="209.70" y2="763.70" stroke="#333" stroke-width="1.3" />
<text transform="translate(205.70,781.80) scale(1.0000,1)" font-size="18" fill="#222" stroke="#222" stroke-width="0.15">4</text>
<line x1="238.15" y1="758.50" x2="238.15" y2="763.70" stroke="#333" stroke-width="1.3" />
<line x1="266.60" y1="758.50" x2="266.60" y2="763.70" stroke="#333" stroke-width="1.3" />
<text transform="translate(262.60,781.80) scale(1.0000,1)" font-size="18" fill="#222" stroke="#222" stroke-width="0.15">6</text>
<line x1="295.05" y1="758.50" x2="295.05" y2="763.70" stroke="#333" stroke-width="1.3" />
<polyline points="123.35,639.50 152.80,639.50 181.25,703.00 209.70,680.50 238.15,705.50 266.60,731.00 296.05,732.70" fill="none" stroke="#eeeeee" stroke-width="9.5" stroke-linejoin="miter"/>
<line x1="95.60" y1="549.00" x2="95.60" y2="639.50" stroke="#d99aa4" stroke-width="2.6" />
<line x1="94.40" y1="549.50" x2="98.40" y2="549.50" stroke="#c86070" stroke-width="1.4" />
<line x1="94.40" y1="639.00" x2="98.40" y2="639.00" stroke="#c86070" stroke-width="1.4" />
<line x1="124.35" y1="625.10" x2="124.35" y2="658.20" stroke="#cc2020" stroke-width="1.3" />
<line x1="122.35" y1="625.75" x2="126.35" y2="625.75" stroke="#cc2020" stroke-width="1.3" />
<line x1="122.35" y1="657.55" x2="126.35" y2="657.55" stroke="#cc2020" stroke-width="1.3" />
<line x1="152.80" y1="659.50" x2="152.80" y2="677.40" stroke="#cc2020" stroke-width="1.3" />
<line x1="150.80" y1="660.15" x2="154.80" y2="660.15" stroke="#cc2020" stroke-width="1.3" />
<line x1="150.80" y1="676.75" x2="154.80" y2="676.75" stroke="#cc2020" stroke-width="1.3" />
<line x1="181.25" y1="663.60" x2="181.25" y2="690.00" stroke="#cc2020" stroke-width="1.3" />
<line x1="179.25" y1="664.25" x2="183.25" y2="664.25" stroke="#cc2020" stroke-width="1.3" />
<line x1="179.25" y1="689.35" x2="183.25" y2="689.35" stroke="#cc2020" stroke-width="1.3" />
<line x1="209.70" y1="708.60" x2="209.70" y2="721.40" stroke="#cc2020" stroke-width="1.3" />
<line x1="207.70" y1="709.25" x2="211.70" y2="709.25" stroke="#cc2020" stroke-width="1.3" />
<line x1="207.70" y1="720.75" x2="211.70" y2="720.75" stroke="#cc2020" stroke-width="1.3" />
<line x1="238.15" y1="726.30" x2="238.15" y2="734.30" stroke="#cc2020" stroke-width="1.3" />
<line x1="236.15" y1="726.95" x2="240.15" y2="726.95" stroke="#cc2020" stroke-width="1.3" />
<line x1="236.15" y1="733.65" x2="240.15" y2="733.65" stroke="#cc2020" stroke-width="1.3" />
<line x1="266.60" y1="746.00" x2="266.60" y2="750.50" stroke="#cc2020" stroke-width="1.3" />
<line x1="264.60" y1="746.65" x2="268.60" y2="746.65" stroke="#cc2020" stroke-width="1.3" />
<line x1="264.60" y1="749.85" x2="268.60" y2="749.85" stroke="#cc2020" stroke-width="1.3" />
<line x1="295.05" y1="734.30" x2="295.05" y2="747.10" stroke="#cc2020" stroke-width="1.3" />
<line x1="293.05" y1="734.95" x2="297.05" y2="734.95" stroke="#cc2020" stroke-width="1.3" />
<line x1="293.05" y1="746.45" x2="297.05" y2="746.45" stroke="#cc2020" stroke-width="1.3" />
<line x1="124.35" y1="610.00" x2="124.35" y2="671.00" stroke="#111" stroke-width="1.3" />
<line x1="122.35" y1="610.65" x2="126.35" y2="610.65" stroke="#111" stroke-width="1.3" />
<line x1="122.35" y1="670.35" x2="126.35" y2="670.35" stroke="#111" stroke-width="1.3" />
<line x1="152.80" y1="617.00" x2="152.80" y2="661.40" stroke="#111" stroke-width="1.3" />
<line x1="150.80" y1="617.65" x2="154.80" y2="617.65" stroke="#111" stroke-width="1.3" />
<line x1="150.80" y1="660.75" x2="154.80" y2="660.75" stroke="#111" stroke-width="1.3" />
<line x1="181.25" y1="657.20" x2="181.25" y2="748.10" stroke="#111" stroke-width="1.3" />
<line x1="179.25" y1="657.85" x2="183.25" y2="657.85" stroke="#111" stroke-width="1.3" />
<line x1="179.25" y1="747.45" x2="183.25" y2="747.45" stroke="#111" stroke-width="1.3" />
<line x1="209.70" y1="669.40" x2="209.70" y2="691.60" stroke="#111" stroke-width="1.3" />
<line x1="207.70" y1="670.05" x2="211.70" y2="670.05" stroke="#111" stroke-width="1.3" />
<line x1="207.70" y1="690.95" x2="211.70" y2="690.95" stroke="#111" stroke-width="1.3" />
<line x1="238.15" y1="678.00" x2="238.15" y2="734.30" stroke="#111" stroke-width="1.3" />
<line x1="236.15" y1="678.65" x2="240.15" y2="678.65" stroke="#111" stroke-width="1.3" />
<line x1="236.15" y1="733.65" x2="240.15" y2="733.65" stroke="#111" stroke-width="1.3" />
<line x1="266.60" y1="722.00" x2="266.60" y2="738.50" stroke="#111" stroke-width="1.3" />
<line x1="264.60" y1="722.65" x2="268.60" y2="722.65" stroke="#111" stroke-width="1.3" />
<line x1="264.60" y1="737.85" x2="268.60" y2="737.85" stroke="#111" stroke-width="1.3" />
<line x1="295.05" y1="722.00" x2="295.05" y2="743.00" stroke="#111" stroke-width="1.3" />
<line x1="293.05" y1="722.65" x2="297.05" y2="722.65" stroke="#111" stroke-width="1.3" />
<line x1="293.05" y1="742.35" x2="297.05" y2="742.35" stroke="#111" stroke-width="1.3" />
<polyline points="95.90,594.00 124.35,642.10 152.80,658.80 181.25,686.10 209.70,715.00 238.15,731.10 266.60,748.10 295.05,740.70" fill="none" stroke="#c00000" stroke-width="2.6" stroke-linejoin="round"/>
<rect x="107.30" y="562.20" width="13.10" height="8.80" fill="#c00000" stroke="#111" stroke-width="1.6" />
<rect x="107.30" y="579.70" width="13.10" height="8.80" fill="#eeeeee" stroke="#111" stroke-width="1.6" />
<text transform="translate(128.57,572.00) scale(1.0250,1)" font-size="15.5" fill="#222" stroke="#222" stroke-width="0.15">35</text>
<text transform="translate(151.60,572.00) scale(1.0000,1)" font-size="16.8" fill="#222" stroke="#222" stroke-width="0.15"><tspan font-family="Liberation Serif" stroke-width="0.1">μ</tspan></text>
<text transform="translate(160.50,572.00) scale(1.0000,1)" font-size="16.8" fill="#222" stroke="#222" stroke-width="0.15"><tspan font-family="Liberation Serif" stroke-width="0.1">M</tspan></text>
<text transform="translate(178.50,572.00) scale(1.0000,1)" font-size="16.8" fill="#222" stroke="#222" stroke-width="0.15"><tspan font-family="Liberation Serif" stroke-width="0.1">α</tspan></text>
<text transform="translate(188.80,572.00) scale(1.2000,1)" font-size="15.5" fill="#222" stroke="#222" stroke-width="0.15">s</text>
<text transform="translate(202.54,572.00) scale(0.8625,1)" font-size="15.5" fill="#222" stroke="#222" stroke-width="0.15">+</text>
<text transform="translate(218.84,572.00) scale(0.6571,1)" font-size="15.5" fill="#222" stroke="#222" stroke-width="0.15">1</text>
<text transform="translate(230.75,572.00) scale(1.0542,1)" font-size="15.5" fill="#222" stroke="#222" stroke-width="0.15">mM</text>
<text transform="translate(262.50,572.00) scale(1.0312,1)" font-size="15.5" fill="#222" stroke="#222" stroke-width="0.15">ARA</text>
<text transform="translate(127.86,591.00) scale(1.0429,1)" font-size="15.5" fill="#222" stroke="#222" stroke-width="0.15">2</text>
<text transform="translate(141.90,591.00) scale(1.0000,1)" font-size="16.8" fill="#222" stroke="#222" stroke-width="0.15"><tspan font-family="Liberation Serif" stroke-width="0.1">μ</tspan></text>
<text transform="translate(149.50,591.00) scale(1.0000,1)" font-size="16.8" fill="#222" stroke="#222" stroke-width="0.15"><tspan font-family="Liberation Serif" stroke-width="0.1">M</tspan></text>
<text transform="translate(169.50,591.00) scale(1.0000,1)" font-size="16.8" fill="#222" stroke="#222" stroke-width="0.15"><tspan font-family="Liberation Serif" stroke-width="0.1">α</tspan></text>
<text transform="translate(179.02,591.00) scale(1.1833,1)" font-size="15.5" fill="#222" stroke="#222" stroke-width="0.15">s</text>
<text transform="translate(193.15,591.00) scale(0.9500,1)" font-size="15.5" fill="#222" stroke="#222" stroke-width="0.15">+</text>
<text transform="translate(208.41,591.00) scale(0.9875,1)" font-size="15.5" fill="#222" stroke="#222" stroke-width="0.15">10</text>
<text transform="translate(230.40,591.00) scale(1.0000,1)" font-size="16.8" fill="#222" stroke="#222" stroke-width="0.15"><tspan font-family="Liberation Serif" stroke-width="0.1">μ</tspan></text>
<text transform="translate(237.00,591.00) scale(1.0000,1)" font-size="16.8" fill="#222" stroke="#222" stroke-width="0.15"><tspan font-family="Liberation Serif" stroke-width="0.1">M</tspan></text>
<text transform="translate(258.40,591.00) scale(1.0375,1)" font-size="15.5" fill="#222" stroke="#222" stroke-width="0.15">ARA</text>
<text transform="translate(157.40,804.80) scale(1.0000,1)" font-size="18" fill="#222" stroke="#222" stroke-width="0.15">Time (h)</text>
<text transform="translate(35.30,686.81) rotate(-90) scale(1.0143,1.0200)" font-size="18" fill="#222" stroke="#222" stroke-width="0.15">Fraction</text>
<text transform="translate(55.50,762.31) rotate(-90) scale(1.0099,0.9500)" font-size="18" fill="#222" stroke="#222" stroke-width="0.15">of non-dissolved oligomers</text>
<line x1="463.80" y1="560.00" x2="463.80" y2="763.00" stroke="#444" stroke-width="1.2" />
<line x1="463.80" y1="758.00" x2="678.50" y2="758.00" stroke="#999" stroke-width="1.2" />
<line x1="459.90" y1="758.00" x2="463.80" y2="758.00" stroke="#444" stroke-width="1.2" />
<text transform="translate(441.70,765.25) scale(0.9500,1)" font-size="18" fill="#222" stroke="#222" stroke-width="0.15">0</text>
<line x1="459.90" y1="738.20" x2="463.80" y2="738.20" stroke="#444" stroke-width="1.2" />
<line x1="459.90" y1="718.40" x2="463.80" y2="718.40" stroke="#444" stroke-width="1.2" />
<text transform="translate(428.80,725.65) scale(0.9500,1)" font-size="18" fill="#222" stroke="#222" stroke-width="0.15">100</text>
<line x1="459.90" y1="698.60" x2="463.80" y2="698.60" stroke="#444" stroke-width="1.2" />
<line x1="459.90" y1="678.80" x2="463.80" y2="678.80" stroke="#444" stroke-width="1.2" />
<text transform="translate(428.80,686.05) scale(0.9500,1)" font-size="18" fill="#222" stroke="#222" stroke-width="0.15">200</text>
<line x1="459.90" y1="659.00" x2="463.80" y2="659.00" stroke="#444" stroke-width="1.2" />
<line x1="459.90" y1="639.20" x2="463.80" y2="639.20" stroke="#444" stroke-width="1.2" />
<text transform="translate(428.80,646.45) scale(0.9500,1)" font-size="18" fill="#222" stroke="#222" stroke-width="0.15">300</text>
<line x1="459.90" y1="619.40" x2="463.80" y2="619.40" stroke="#444" stroke-width="1.2" />
<line x1="459.90" y1="599.60" x2="463.80" y2="599.60" stroke="#444" stroke-width="1.2" />
<text transform="translate(428.80,606.85) scale(0.9500,1)" font-size="18" fill="#222" stroke="#222" stroke-width="0.15">400</text>
<line x1="459.90" y1="579.80" x2="463.80" y2="579.80" stroke="#444" stroke-width="1.2" />
<line x1="459.90" y1="560.00" x2="463.80" y2="560.00" stroke="#444" stroke-width="1.2" />
<text transform="translate(428.80,567.25) scale(0.9500,1)" font-size="18" fill="#222" stroke="#222" stroke-width="0.15">500</text>
<line x1="517.50" y1="758.00" x2="517.50" y2="763.00" stroke="#444" stroke-width="1.2" />
<line x1="571.70" y1="758.00" x2="571.70" y2="763.00" stroke="#444" stroke-width="1.2" />
<line x1="625.20" y1="758.00" x2="625.20" y2="763.00" stroke="#444" stroke-width="1.2" />
<line x1="678.50" y1="758.00" x2="678.50" y2="763.00" stroke="#444" stroke-width="1.2" />
<rect x="490.90" y="735.60" width="15.10" height="22.40" fill="#c9504c" stroke="none" stroke-width="0" />
<rect x="475.60" y="625.90" width="14.80" height="132.10" fill="#eeeeee" stroke="#111" stroke-width="1.7" />
<line x1="482.80" y1="609.00" x2="482.80" y2="643.00" stroke="#222" stroke-width="1.3" />
<line x1="480.55" y1="609.70" x2="485.05" y2="609.70" stroke="#222" stroke-width="1.4" />
<line x1="480.55" y1="642.30" x2="485.05" y2="642.30" stroke="#222" stroke-width="1.4" />
<line x1="497.80" y1="732.70" x2="497.80" y2="738.90" stroke="#222" stroke-width="1.3" />
<line x1="495.55" y1="733.40" x2="500.05" y2="733.40" stroke="#222" stroke-width="1.4" />
<line x1="495.55" y1="738.20" x2="500.05" y2="738.20" stroke="#222" stroke-width="1.4" />
<rect x="544.50" y="725.80" width="15.00" height="32.20" fill="#c9504c" stroke="none" stroke-width="0" />
<rect x="529.10" y="689.00" width="14.90" height="69.00" fill="#eeeeee" stroke="#111" stroke-width="1.7" />
<line x1="536.20" y1="677.50" x2="536.20" y2="700.50" stroke="#222" stroke-width="1.3" />
<line x1="533.95" y1="678.20" x2="538.45" y2="678.20" stroke="#222" stroke-width="1.4" />
<line x1="533.95" y1="699.80" x2="538.45" y2="699.80" stroke="#222" stroke-width="1.4" />
<line x1="552.00" y1="720.90" x2="552.00" y2="731.70" stroke="#222" stroke-width="1.3" />
<line x1="549.75" y1="721.60" x2="554.25" y2="721.60" stroke="#222" stroke-width="1.4" />
<line x1="549.75" y1="731.00" x2="554.25" y2="731.00" stroke="#222" stroke-width="1.4" />
<rect x="598.00" y="697.90" width="15.40" height="60.10" fill="#c9504c" stroke="none" stroke-width="0" />
<rect x="583.00" y="682.40" width="14.50" height="75.60" fill="#eeeeee" stroke="#111" stroke-width="1.7" />
<line x1="590.10" y1="676.50" x2="590.10" y2="687.30" stroke="#222" stroke-width="1.3" />
<line x1="587.85" y1="677.20" x2="592.35" y2="677.20" stroke="#222" stroke-width="1.4" />
<line x1="587.85" y1="686.60" x2="592.35" y2="686.60" stroke="#222" stroke-width="1.4" />
<line x1="605.50" y1="689.00" x2="605.50" y2="706.10" stroke="#222" stroke-width="1.3" />
<line x1="603.25" y1="689.70" x2="607.75" y2="689.70" stroke="#222" stroke-width="1.4" />
<line x1="603.25" y1="705.40" x2="607.75" y2="705.40" stroke="#222" stroke-width="1.4" />
<rect x="651.90" y="676.80" width="15.40" height="81.20" fill="#c9504c" stroke="none" stroke-width="0" />
<rect x="636.60" y="653.20" width="14.80" height="104.80" fill="#eeeeee" stroke="#111" stroke-width="1.7" />
<line x1="644.30" y1="646.30" x2="644.30" y2="660.00" stroke="#222" stroke-width="1.3" />
<line x1="642.05" y1="647.00" x2="646.55" y2="647.00" stroke="#222" stroke-width="1.4" />
<line x1="642.05" y1="659.30" x2="646.55" y2="659.30" stroke="#222" stroke-width="1.4" />
<line x1="659.40" y1="668.60" x2="659.40" y2="682.40" stroke="#222" stroke-width="1.3" />
<line x1="657.15" y1="669.30" x2="661.65" y2="669.30" stroke="#222" stroke-width="1.4" />
<line x1="657.15" y1="681.70" x2="661.65" y2="681.70" stroke="#222" stroke-width="1.4" />
<rect x="604.20" y="576.00" width="12.20" height="8.00" fill="#c9504c" stroke="#111" stroke-width="1.7" />
<rect x="604.20" y="593.70" width="12.20" height="8.00" fill="#eeeeee" stroke="#111" stroke-width="1.7" />
<text transform="translate(622.83,582.40) scale(1.1688,1)" font-size="16.5" fill="#222" stroke="#222" stroke-width="0.15"><tspan font-family="Liberation Serif" stroke-width="0.1">α</tspan>s</text>
<text transform="translate(622.92,602.30) scale(1.0791,1)" font-size="16.5" fill="#222" stroke="#222" stroke-width="0.15">+ARA</text>
<text transform="translate(467.20,800.70) scale(1.0159,1)" font-size="18" fill="#222" stroke="#222" stroke-width="0.15">A90C</text>
<text transform="translate(521.80,800.70) scale(1.0098,1)" font-size="18" fill="#222" stroke="#222" stroke-width="0.15">A30P*</text>
<text transform="translate(576.60,800.70) scale(1.0180,1)" font-size="18" fill="#222" stroke="#222" stroke-width="0.15">A53T*</text>
<text transform="translate(632.40,800.70) scale(1.0000,1)" font-size="18" fill="#222" stroke="#222" stroke-width="0.15">E46K*</text>
<text transform="translate(410.40,730.81) rotate(-90) scale(1.0054,0.9400)" font-size="18" fill="#222" stroke="#222" stroke-width="0.15">Number of oligomers</text>
</svg></body></html>
